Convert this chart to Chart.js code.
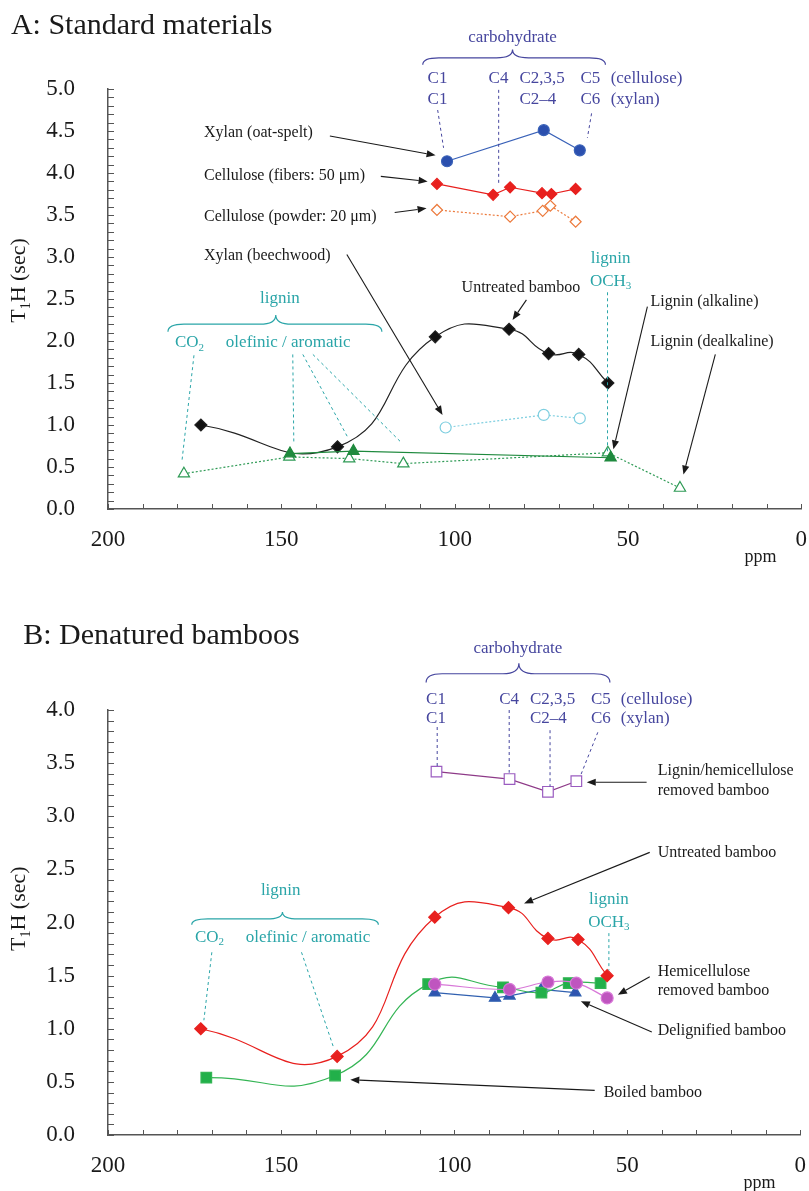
<!DOCTYPE html>
<html>
<head>
<meta charset="utf-8">
<script src="https://cdn.jsdelivr.net/npm/chart.js@4.4.1/dist/chart.umd.min.js"></script>
<style>
  body { margin: 0; background: #fff; }
  #wrap { position: relative; width: 809px; height: 1191px; }
  canvas { position: absolute; left: 0; }
  #chartA { top: 0; }
  #chartB { top: 595px; }
</style>
</head>
<body>
<div id="wrap">
  <canvas id="chartA" width="809" height="595"></canvas>
  <canvas id="chartB" width="809" height="596"></canvas>
</div>
<script>
// ---- data (ppm, T1H in sec) ----
const ppmTicks = [200, 150, 100, 50, 0];

// A: standard materials
const ppmXylanOat = [102.2, 74.3, 63.9];
const t1XylanOat = [4.14, 4.51, 4.27];
const ppmCellFiber = [105.1, 88.9, 84.0, 74.8, 72.1, 65.1];
const t1CellFiber = [3.87, 3.74, 3.83, 3.76, 3.75, 3.81];
const ppmCellPowder = [105.1, 84.0, 74.6, 72.4, 65.1];
const t1CellPowder = [3.56, 3.48, 3.55, 3.61, 3.42];
const ppmXylanBeech = [102.6, 74.3, 63.9];
const t1XylanBeech = [0.97, 1.12, 1.08];
const ppmBamboo = [173.2, 133.8, 105.6, 84.3, 72.9, 64.2, 55.8];
const t1Bamboo = [1.00, 0.74, 2.05, 2.14, 1.85, 1.84, 1.50];
const ppmLigAlk = [147.5, 129.2, 55.0];
const t1LigAlk = [0.66, 0.69, 0.61];
const ppmLigDealk = [178.1, 147.7, 130.4, 114.8, 55.8, 35.0];
const t1LigDealk = [0.42, 0.62, 0.60, 0.54, 0.67, 0.25];

// B: denatured bamboos
const ppmLigHemiRem = [105.1, 84.0, 72.9, 64.7];
const t1LigHemiRem = [3.42, 3.35, 3.23, 3.33];
const ppmBoiled = [171.6, 134.4, 107.5, 85.9, 74.8, 66.9, 57.7];
const t1Boiled = [0.54, 0.56, 1.42, 1.39, 1.34, 1.43, 1.43];
const ppmHemiRem = [105.6, 84.0, 72.9, 64.7, 55.8];
const t1HemiRem = [1.42, 1.37, 1.44, 1.43, 1.29];
const ppmDelig = [105.6, 88.2, 84.0, 74.8, 65.0];
const t1Delig = [1.34, 1.29, 1.31, 1.37, 1.34];

const SERIF = "'Liberation Serif', 'Times New Roman', serif";
const CARB = '#46469e';
const TEAL = '#2aa5a8';
const INK = '#1a1a1a';

function series(xs, ys, o) {
  return Object.assign({
    data: xs.map((x, i) => ({ x: x, y: ys[i] })),
    showLine: true,
    borderWidth: 1.2,
    pointBorderWidth: 1.2,
    tension: 0,
    fill: false
  }, o);
}

// text with "_x" meaning subscript x
function rich(ctx, s, x, y, size, align) {
  const parts = [];
  for (let i = 0; i < s.length; i++) {
    if (s[i] === '_') { parts.push([s[i + 1], true]); i++; }
    else if (parts.length && !parts[parts.length - 1][1]) parts[parts.length - 1][0] += s[i];
    else parts.push([s[i], false]);
  }
  const sub = Math.round(size * 0.62);
  let w = 0;
  parts.forEach(p => {
    ctx.font = (p[1] ? sub : size) + 'px ' + SERIF;
    p.push(ctx.measureText(p[0]).width);
    w += p[2];
  });
  let cx = align === 'center' ? x - w / 2 : align === 'right' ? x - w : x;
  ctx.textAlign = 'left';
  ctx.textBaseline = 'middle';
  parts.forEach(p => {
    ctx.font = (p[1] ? sub : size) + 'px ' + SERIF;
    ctx.fillText(p[0], cx, p[1] ? y + size * 0.3 : y);
    cx += p[2];
  });
}

function arrow(ctx, x1, y1, x2, y2) {
  const a = Math.atan2(y2 - y1, x2 - x1);
  const L = 9, W = 3.6;
  const bx = x2 - L * Math.cos(a), by = y2 - L * Math.sin(a);
  ctx.strokeStyle = INK; ctx.fillStyle = INK;
  ctx.lineWidth = 1.1; ctx.setLineDash([]);
  ctx.beginPath(); ctx.moveTo(x1, y1); ctx.lineTo(bx, by); ctx.stroke();
  ctx.beginPath();
  ctx.moveTo(x2, y2);
  ctx.lineTo(bx - W * Math.sin(a), by + W * Math.cos(a));
  ctx.lineTo(bx + W * Math.sin(a), by - W * Math.cos(a));
  ctx.closePath(); ctx.fill();
}

function brace(ctx, x1, x2, xc, yb, yt, color) {
  const ym = yb - (yb - yt) * 0.45;
  const q = 16;
  ctx.strokeStyle = color; ctx.lineWidth = 1.2; ctx.setLineDash([]);
  ctx.beginPath();
  ctx.moveTo(x1, yb);
  ctx.quadraticCurveTo(x1, ym, x1 + q, ym);
  ctx.lineTo(xc - q, ym);
  ctx.quadraticCurveTo(xc, ym, xc, yt);
  ctx.quadraticCurveTo(xc, ym, xc + q, ym);
  ctx.lineTo(x2 - q, ym);
  ctx.quadraticCurveTo(x2, ym, x2, yb);
  ctx.stroke();
}

const deco = {
  id: 'deco',
  afterDraw(chart, args, opts) {
    const { ctx, chartArea, scales: { x, y } } = chart;
    const X = v => x.getPixelForValue(v);
    const Y = v => y.getPixelForValue(v);
    ctx.save();
    // minor ticks, pointing into the plot
    ctx.strokeStyle = '#555'; ctx.lineWidth = 1;
    ctx.beginPath();
    for (let v = 0; v <= y.max + 1e-6; v += 0.1) {
      const py = Math.round(Y(v)) + 0.5;
      ctx.moveTo(chartArea.left, py); ctx.lineTo(chartArea.left + 6, py);
    }
    for (let p = 0; p <= 200; p += 10) {
      const px = Math.round(X(p)) + 0.5;
      ctx.moveTo(px, chartArea.bottom); ctx.lineTo(px, chartArea.bottom - 5);
    }
    ctx.stroke();

    opts.items.forEach(it => {
      const k = it[0];
      if (k === 'text') {
        ctx.fillStyle = it[5];
        rich(ctx, it[3], X(it[1]), Y(it[2]), it[4], it[6]);
      } else if (k === 'ylab') {
        ctx.save();
        ctx.translate(X(it[1]), Y(it[2]));
        ctx.rotate(-Math.PI / 2);
        ctx.fillStyle = INK;
        rich(ctx, it[3], 0, 0, it[4], 'center');
        ctx.restore();
      } else if (k === 'dash') {
        ctx.strokeStyle = it[5]; ctx.lineWidth = 1; ctx.setLineDash([3, 3]);
        ctx.beginPath(); ctx.moveTo(X(it[1]), Y(it[2])); ctx.lineTo(X(it[3]), Y(it[4])); ctx.stroke();
        ctx.setLineDash([]);
      } else if (k === 'arrow') {
        arrow(ctx, X(it[1]), Y(it[2]), X(it[3]), Y(it[4]));
      } else if (k === 'brace') {
        brace(ctx, X(it[1]), X(it[2]), X(it[3]), Y(it[4]), Y(it[5]), it[6]);
      }
    });
    ctx.restore();
  }
};

function axes(yMax, xHeight) {
  const tickFont = { family: SERIF, size: 23 };
  return {
    x: {
      type: 'linear', min: 0, max: 200, reverse: true,
      grid: { display: false },
      border: { display: true, color: '#555', width: 1.5 },
      ticks: {
        stepSize: 50, autoSkip: false, maxRotation: 0, padding: 9,
        color: INK, font: tickFont,
        callback: v => (ppmTicks.includes(v) ? String(v) : '')
      },
      afterFit: s => { s.height = xHeight; s.paddingLeft = 0; s.paddingRight = 0; }
    },
    y: {
      type: 'linear', min: 0, max: yMax,
      grid: { display: false },
      border: { display: true, color: '#555', width: 1.5 },
      ticks: {
        stepSize: 0.5, padding: 25, color: INK, font: tickFont,
        callback: v => v.toFixed(1)
      },
      afterFit: s => { s.width = 108; s.paddingTop = 0; s.paddingBottom = 0; }
    }
  };
}

function baseOptions(yMax, top, xHeight, items) {
  return {
    responsive: false,
    animation: false,
    layout: { padding: { left: 0, right: 7, top: top, bottom: 0 } },
    plugins: { legend: { display: false }, tooltip: { enabled: false }, deco: { items: items } },
    scales: axes(yMax, xHeight)
  };
}

// ---- annotations (positions in ppm / sec) ----
const annA = [
  ['text', 228.0, 5.75, 'A: Standard materials', 30, INK, 'left'],
  ['ylab', 225.6, 2.72, 'T_1H (sec)', 22],
  ['text', 11.8, -0.57, 'ppm', 18, INK, 'center'],
  ['text', 83.3, 5.61, 'carbohydrate', 17, CARB, 'center'],
  ['brace', 109.2, 56.5, 83.3, 5.29, 5.47, CARB],
  ['text', 107.8, 5.12, 'C1', 17, CARB, 'left'],
  ['text', 90.2, 5.12, 'C4', 17, CARB, 'left'],
  ['text', 81.3, 5.12, 'C2,3,5', 17, CARB, 'left'],
  ['text', 63.7, 5.12, 'C5', 17, CARB, 'left'],
  ['text', 55.0, 5.12, '(cellulose)', 17, CARB, 'left'],
  ['text', 107.8, 4.88, 'C1', 17, CARB, 'left'],
  ['text', 81.3, 4.88, 'C2–4', 17, CARB, 'left'],
  ['text', 63.7, 4.88, 'C6', 17, CARB, 'left'],
  ['text', 55.0, 4.88, '(xylan)', 17, CARB, 'left'],
  ['dash', 104.9, 4.75, 103.2, 4.30, CARB],
  ['dash', 87.3, 4.99, 87.3, 3.88, CARB],
  ['dash', 60.5, 4.71, 61.7, 4.42, CARB],
  ['text', 172.3, 4.48, 'Xylan (oat-spelt)', 16, INK, 'left'],
  ['arrow', 136.0, 4.44, 105.5, 4.21],
  ['text', 172.3, 3.97, 'Cellulose (fibers: 50 μm)', 16, INK, 'left'],
  ['arrow', 121.3, 3.96, 107.8, 3.90],
  ['text', 172.3, 3.48, 'Cellulose (powder: 20 μm)', 16, INK, 'left'],
  ['arrow', 117.3, 3.53, 108.1, 3.58],
  ['text', 172.3, 3.02, 'Xylan (beechwood)', 16, INK, 'left'],
  ['arrow', 131.1, 3.03, 103.5, 1.12],
  ['text', 98.0, 2.63, 'Untreated bamboo', 16, INK, 'left'],
  ['arrow', 79.3, 2.49, 83.3, 2.25],
  ['text', 43.5, 2.47, 'Lignin (alkaline)', 16, INK, 'left'],
  ['arrow', 44.4, 2.41, 54.2, 0.71],
  ['text', 43.5, 1.99, 'Lignin (dealkaline)', 16, INK, 'left'],
  ['arrow', 24.8, 1.84, 34.0, 0.41],
  ['text', 55.0, 2.98, 'lignin', 17, TEAL, 'center'],
  ['text', 55.0, 2.71, 'OCH_3', 17, TEAL, 'center'],
  ['dash', 55.9, 2.58, 55.9, 0.67, TEAL],
  ['text', 150.4, 2.50, 'lignin', 17, TEAL, 'center'],
  ['brace', 182.7, 121.0, 151.6, 2.11, 2.31, TEAL],
  ['text', 180.7, 1.98, 'CO_2', 17, TEAL, 'left'],
  ['text', 166.0, 1.98, 'olefinic / aromatic', 17, TEAL, 'left'],
  ['dash', 175.2, 1.83, 178.7, 0.56, TEAL],
  ['dash', 146.7, 1.84, 146.4, 0.80, TEAL],
  ['dash', 143.8, 1.84, 130.8, 0.85, TEAL],
  ['dash', 140.9, 1.84, 115.6, 0.80, TEAL]
];

const annB = [
  ['text', 224.5, 4.70, 'B: Denatured bamboos', 30, INK, 'left'],
  ['ylab', 225.6, 2.13, 'T_1H (sec)', 22],
  ['text', 11.8, -0.45, 'ppm', 18, INK, 'center'],
  ['text', 81.6, 4.58, 'carbohydrate', 17, CARB, 'center'],
  ['brace', 108.1, 55.0, 81.3, 4.26, 4.44, CARB],
  ['text', 108.1, 4.10, 'C1', 17, CARB, 'left'],
  ['text', 87.0, 4.10, 'C4', 17, CARB, 'left'],
  ['text', 78.1, 4.10, 'C2,3,5', 17, CARB, 'left'],
  ['text', 60.5, 4.10, 'C5', 17, CARB, 'left'],
  ['text', 51.9, 4.10, '(cellulose)', 17, CARB, 'left'],
  ['text', 108.1, 3.92, 'C1', 17, CARB, 'left'],
  ['text', 78.1, 3.92, 'C2–4', 17, CARB, 'left'],
  ['text', 60.5, 3.92, 'C6', 17, CARB, 'left'],
  ['text', 51.9, 3.92, '(xylan)', 17, CARB, 'left'],
  ['dash', 104.9, 3.84, 104.9, 3.46, CARB],
  ['dash', 84.1, 4.00, 84.1, 3.41, CARB],
  ['dash', 72.3, 3.81, 72.3, 3.28, CARB],
  ['dash', 58.5, 3.79, 63.4, 3.39, CARB],
  ['text', 41.2, 3.43, 'Lignin/hemicellulose', 16, INK, 'left'],
  ['text', 41.2, 3.24, 'removed bamboo', 16, INK, 'left'],
  ['arrow', 44.4, 3.32, 61.7, 3.32],
  ['text', 41.2, 2.66, 'Untreated bamboo', 16, INK, 'left'],
  ['arrow', 43.5, 2.66, 79.8, 2.18],
  ['text', 150.1, 2.30, 'lignin', 17, TEAL, 'center'],
  ['brace', 175.8, 121.9, 149.6, 1.98, 2.10, TEAL],
  ['text', 174.9, 1.86, 'CO_2', 17, TEAL, 'left'],
  ['text', 160.2, 1.86, 'olefinic / aromatic', 17, TEAL, 'left'],
  ['dash', 170.0, 1.72, 172.3, 1.08, TEAL],
  ['dash', 144.1, 1.72, 134.9, 0.83, TEAL],
  ['text', 55.3, 2.22, 'lignin', 17, TEAL, 'center'],
  ['text', 55.3, 2.00, 'OCH_3', 17, TEAL, 'center'],
  ['dash', 55.3, 1.90, 55.3, 1.55, TEAL],
  ['text', 41.2, 1.54, 'Hemicellulose', 16, INK, 'left'],
  ['text', 41.2, 1.36, 'removed bamboo', 16, INK, 'left'],
  ['arrow', 43.5, 1.49, 52.7, 1.32],
  ['text', 41.2, 0.98, 'Delignified bamboo', 16, INK, 'left'],
  ['arrow', 42.9, 0.97, 63.4, 1.26],
  ['text', 56.8, 0.40, 'Boiled bamboo', 16, INK, 'left'],
  ['arrow', 59.4, 0.42, 130.0, 0.52]
];

// ---- panel A ----
new Chart(document.getElementById('chartA').getContext('2d'), {
  type: 'scatter',
  data: {
    datasets: [
      series(ppmXylanOat, t1XylanOat, {
        borderColor: '#3a62b8', backgroundColor: '#2b4fae',
        pointStyle: 'circle', pointRadius: 5.5
      }),
      series(ppmCellFiber, t1CellFiber, {
        borderColor: '#e8201e', backgroundColor: '#e8201e',
        pointStyle: 'rectRot', pointRadius: 5.5
      }),
      series(ppmCellPowder, t1CellPowder, {
        borderColor: '#ec7a3c', backgroundColor: '#fff', borderDash: [2, 2],
        pointStyle: 'rectRot', pointRadius: 5.5
      }),
      series(ppmLigAlk, t1LigAlk, {
        borderColor: '#1f8a3e', backgroundColor: '#1f8a3e',
        pointStyle: 'triangle', pointRadius: 6.5
      }),
      series(ppmBamboo, t1Bamboo, {
        borderColor: '#222', backgroundColor: '#111',
        pointStyle: 'rectRot', pointRadius: 6, tension: 0.5
      }),
      series(ppmXylanBeech, t1XylanBeech, {
        borderColor: '#7fcfe0', backgroundColor: '#fff', borderDash: [2, 2],
        pointStyle: 'circle', pointRadius: 5.5
      }),
      series(ppmLigDealk, t1LigDealk, {
        borderColor: '#2e9a55', backgroundColor: '#fff', borderDash: [2, 2],
        pointStyle: 'triangle', pointRadius: 6.5
      })
    ]
  },
  options: baseOptions(5.0, 89, 86, annA),
  plugins: [deco]
});

// ---- panel B ----
new Chart(document.getElementById('chartB').getContext('2d'), {
  type: 'scatter',
  data: {
    datasets: [
      series(ppmLigHemiRem, t1LigHemiRem, {
        borderColor: '#8e3a88', backgroundColor: '#fff', pointBorderColor: '#9a5cc0',
        pointStyle: 'rect', pointRadius: 7.5
      }),
      series(ppmHemiRem, t1HemiRem, {
        borderColor: '#d878d8', backgroundColor: '#bf55bf',
        pointStyle: 'circle', pointRadius: 6, tension: 0.4
      }),
      series(ppmBamboo, t1Bamboo, {
        borderColor: '#e8201e', backgroundColor: '#e8201e',
        pointStyle: 'rectRot', pointRadius: 6, tension: 0.5
      }),
      series(ppmBoiled, t1Boiled, {
        borderColor: '#35b555', backgroundColor: '#22b04a',
        pointStyle: 'rect', pointRadius: 7.5, tension: 0.5
      }),
      series(ppmDelig, t1Delig, {
        borderColor: '#3060b0', backgroundColor: '#2f54b0',
        pointStyle: 'triangle', pointRadius: 6.5
      })
    ]
  },
  options: baseOptions(4.0, 115, 56, annB),
  plugins: [deco]
});
</script>
</body>
</html>
